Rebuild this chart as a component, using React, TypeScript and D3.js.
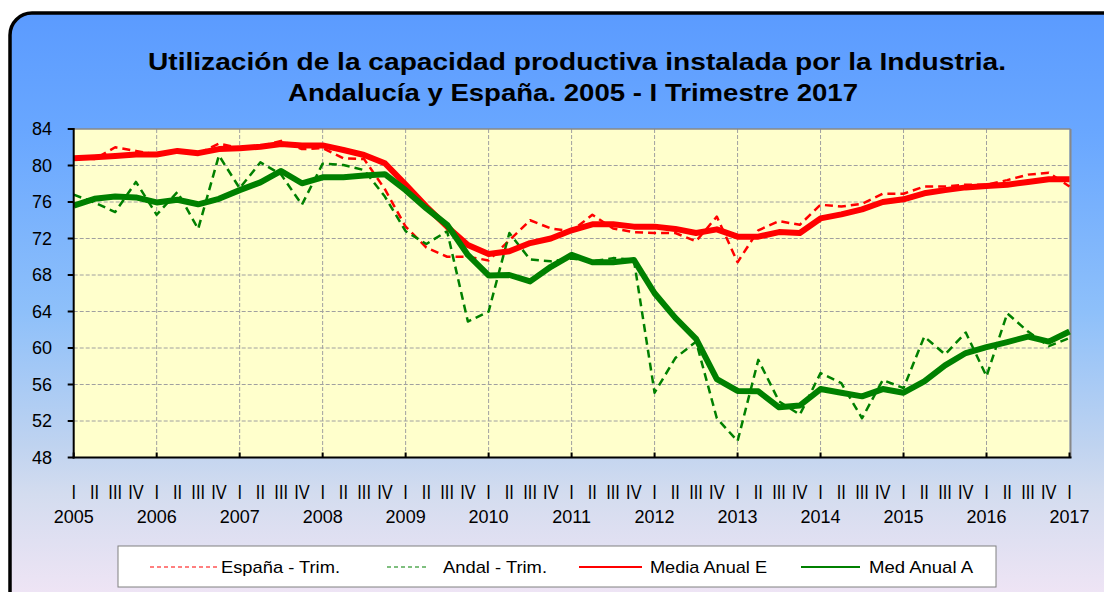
import React from 'react';
import * as d3 from 'd3';

// Quarterly data, 2005 I - 2017 I
const quarterLabels = ['I', 'II', 'III', 'IV'];
const years = [2005, 2006, 2007, 2008, 2009, 2010, 2011, 2012, 2013, 2014, 2015, 2016, 2017];
const yTicks = [48, 52, 56, 60, 64, 68, 72, 76, 80, 84];

const espanaTrim = [80.9, 80.7, 82.0, 81.6, 81.2, 81.5, 81.3, 82.4, 81.9, 82.1, 82.7, 81.8, 81.9, 80.8, 80.7, 77.4,
  73.3, 71.0, 70.0, 70.0, 69.6, 71.8, 74.0, 73.1, 72.8, 74.6, 73.1, 72.7, 72.6, 72.6, 71.7, 74.4, 69.4, 72.9, 73.9,
  73.5, 75.7, 75.5, 75.8, 76.9, 76.9, 77.7, 77.7, 77.9, 77.9, 78.4, 79.0, 79.2, 77.7];
const andalTrim = [76.8, 75.95, 74.9, 78.2, 74.6, 77.1, 73.05, 81.1, 77.5, 80.35, 79.0, 75.7, 80.2, 80.05, 79.5, 76.6,
  72.8, 71.4, 72.8, 62.9, 64.0, 72.6, 69.7, 69.5, 69.8, 69.5, 69.85, 69.7, 55.1, 58.9, 60.7, 52.3, 49.8, 58.7, 54.15,
  52.7, 57.25, 56.15, 52.3, 56.5, 55.6, 61.25, 59.3, 61.7, 56.9, 63.8, 61.8, 60.2, 61.1];
const mediaAnualE = [80.8, 80.9, 81.05, 81.2, 81.2, 81.6, 81.35, 81.8, 81.9, 82.05, 82.35, 82.2, 82.2, 81.7, 81.15, 80.25,
  77.9, 75.5, 73.3, 71.3, 70.3, 70.6, 71.5, 72.0, 72.9, 73.55, 73.55, 73.3, 73.3, 73.05, 72.6, 73.0, 72.2, 72.2, 72.7,
  72.6, 74.2, 74.65, 75.2, 76.0, 76.3, 76.95, 77.3, 77.6, 77.75, 77.9, 78.2, 78.5, 78.5];
const medAnualA = [75.6, 76.35, 76.6, 76.5, 75.95, 76.25, 75.75, 76.35, 77.3, 78.15, 79.4, 78.05, 78.7, 78.7, 78.9, 79.05,
  77.3, 75.3, 73.5, 70.2, 67.95, 68.0, 67.3, 68.9, 70.2, 69.4, 69.4, 69.65, 66.0, 63.3, 61.0, 56.6, 55.3, 55.25, 53.5,
  53.7, 55.5, 55.1, 54.7, 55.5, 55.1, 56.35, 58.1, 59.45, 60.1, 60.65, 61.25, 60.7, 61.8];

const series = [
  { name: 'España - Trim.', values: espanaTrim, color: '#ff0000', width: 2.5, dash: '8,5' },
  { name: 'Andal - Trim.', values: andalTrim, color: '#008000', width: 2.5, dash: '8,5' },
  { name: 'Media Anual E', values: mediaAnualE, color: '#ff0000', width: 6, dash: null },
  { name: 'Med Anual A', values: medAnualA, color: '#008000', width: 6, dash: null },
];

const W = 1104;
const H = 592;
const left = 73.7, right = 1069.5, top = 129, bottom = 457.5;

export default function App() {
  const nQ = espanaTrim.length;
  const x = d3.scaleLinear().domain([0, nQ - 1]).range([left, right]);
  const y = d3.scaleLinear().domain([48, 84]).range([bottom, top]);
  const line = d3.line<number>().x((d, i) => x(i)).y(d => y(d));

  const qTicks = d3.range(nQ);
  const yearIdx = years.map((yr, i) => i * 4);

  const legendItems = [
    { ...series[0], lx: 150, tx: 221, tw: 119 },
    { ...series[1], lx: 387, tx: 443, tw: 104 },
    { ...series[2], lx: 579, tx: 650, tw: 117 },
    { ...series[3], lx: 801, tx: 869, tw: 104 },
  ];
  const legendSample = [67, 42, 63, 59];

  return (
    <svg width={W} height={H} style={{ position: 'absolute', left: 0, top: 0 }}
      fontFamily="'Liberation Sans', Arial, sans-serif">
      <defs>
        <linearGradient id="bg" x1="0" y1="0" x2="0" y2="1">
          <stop offset="0" stopColor="#5b9bff" />
          <stop offset="0.2" stopColor="#69a7ff" />
          <stop offset="0.5" stopColor="#8ec0fa" />
          <stop offset="0.72" stopColor="#bfd3f0" />
          <stop offset="0.8" stopColor="#d3dcef" />
          <stop offset="1" stopColor="#f4e6f6" />
        </linearGradient>
      </defs>
      <rect x={10} y={13} width={1120} height={600} rx={22} fill="url(#bg)" stroke="#000" strokeWidth={3.5} />

      <text x={577} y={70} textAnchor="middle" fontSize={24} fontWeight="bold" textLength={858} lengthAdjust="spacingAndGlyphs">
        Utilización de la capacidad productiva instalada por la Industria.
      </text>
      <text x={573} y={101} textAnchor="middle" fontSize={24} fontWeight="bold" textLength={570} lengthAdjust="spacingAndGlyphs">
        Andalucía y España. 2005 - I Trimestre 2017
      </text>

      {/* plot area */}
      <rect x={left} y={top} width={right - left} height={bottom - top} fill="#ffffcc" />
      {yTicks.slice(1, -1).map(t => (
        <line key={'gy' + t} x1={left} x2={right} y1={y(t)} y2={y(t)} stroke="#a0a0a0" strokeWidth={1} strokeDasharray="4,2" />
      ))}
      {yearIdx.slice(1, -1).map(i => (
        <line key={'gx' + i} x1={x(i)} x2={x(i)} y1={top} y2={bottom} stroke="#a0a0a0" strokeWidth={1} strokeDasharray="4,2" />
      ))}
      <line x1={left} x2={right + 1} y1={top} y2={top} stroke="#888" strokeWidth={1.5} />
      <line x1={right + 1} x2={right + 1} y1={top} y2={bottom} stroke="#888" strokeWidth={2} />

      {series.map(s => (
        <path key={s.name} d={line(s.values) || ''} fill="none" stroke={s.color} strokeWidth={s.width}
          strokeDasharray={s.dash || undefined} strokeLinejoin="round" />
      ))}

      {/* axes */}
      <line x1={left} x2={left} y1={top - 1} y2={bottom + 1} stroke="#000" strokeWidth={2} />
      <line x1={left - 1} x2={right + 2} y1={bottom} y2={bottom} stroke="#000" strokeWidth={2} />
      {yTicks.map(t => (
        <g key={'yt' + t}>
          <line x1={left - 6} x2={left} y1={y(t)} y2={y(t)} stroke="#000" strokeWidth={2} />
          <text x={52} y={y(t)} dy="0.35em" textAnchor="end" fontSize={18}>{t}</text>
        </g>
      ))}
      {yearIdx.map(i => (
        <line key={'xt' + i} x1={x(i)} x2={x(i)} y1={bottom - 5} y2={bottom} stroke="#000" strokeWidth={2} />
      ))}
      {qTicks.map(i => (
        <text key={'q' + i} transform={`translate(${x(i)},499) scale(0.82,1)`} textAnchor="middle" fontSize={20}>
          {quarterLabels[i % 4]}
        </text>
      ))}
      {years.map((yr, k) => (
        <text key={'yr' + yr} x={x(yearIdx[k])} y={523} textAnchor="middle" fontSize={18}>{yr}</text>
      ))}

      {/* legend */}
      <rect x={118} y={546} width={878} height={41} fill="#fff" stroke="#808080" strokeWidth={1} />
      {legendItems.map((it, k) => (
        <g key={'lg' + k}>
          <line x1={it.lx} x2={it.lx + legendSample[k]} y1={567} y2={567} stroke={it.color}
            strokeWidth={it.dash ? 1.2 : 2} strokeDasharray={it.dash ? '4,3' : undefined} />
          <text x={it.tx} y={567} dy="0.35em" fontSize={17} textLength={it.tw} lengthAdjust="spacingAndGlyphs">{it.name}</text>
        </g>
      ))}
    </svg>
  );
}
